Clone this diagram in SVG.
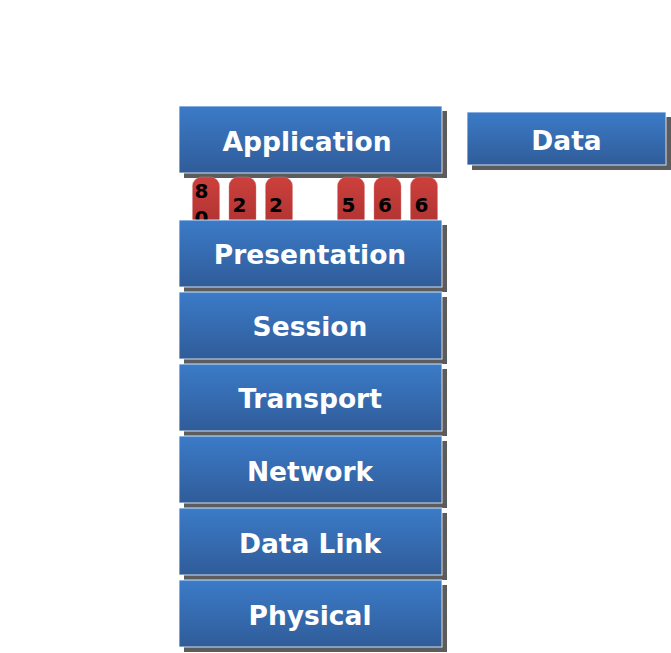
<svg xmlns="http://www.w3.org/2000/svg" width="671" height="653" viewBox="0 0 671 653">
  <defs>
    <linearGradient id="blue" x1="0" y1="0" x2="0" y2="1">
      <stop offset="0" stop-color="#3b7bc8"/>
      <stop offset="1" stop-color="#305c99"/>
    </linearGradient>
    <linearGradient id="red" x1="0" y1="0" x2="0" y2="1">
      <stop offset="0" stop-color="#cc403c"/>
      <stop offset="1" stop-color="#a32e2e"/>
    </linearGradient>
    <style>
      .shadow { fill: #5c5c5c; }
      .box { fill: url(#blue); stroke: #ffffff; stroke-opacity: 0.8; stroke-width: 1; }
      .label { font-family: "DejaVu Sans", sans-serif; font-weight: bold; font-size: 26.5px; fill: #ffffff; text-anchor: middle; }
      .tab { fill: url(#red); stroke: #e08080; stroke-opacity: 0.5; stroke-width: 0.8; }
      .num { font-family: "DejaVu Sans", sans-serif; font-weight: bold; font-size: 20px; fill: #000000; }
    </style>
  </defs>
  <rect width="671" height="653" fill="#ffffff"/>

  <g id="data">
    <rect class="shadow" x="472" y="117" width="199" height="53"/>
    <rect class="box" x="467" y="112" width="199" height="53"/>
    <text class="label" x="566.5" y="149.5">Data</text>
  </g>

  <g id="application">
    <rect class="shadow" x="184" y="111" width="263" height="67"/>
    <rect class="box" x="179" y="106" width="263" height="67"/>
    <text class="label" x="307" y="150.5">Application</text>
  </g>

  <g id="ports">
    <g id="port-1">
      <path class="tab" d="M192.5 245 V186 a9 9 0 0 1 9 -9 h9 a9 9 0 0 1 9 9 V245 Z"/>
      <text class="num" x="194.5" y="197.5">8</text>
      <text class="num" x="194.5" y="225">0</text>
    </g>
    <g id="port-2">
      <path class="tab" d="M229 245 V186 a9 9 0 0 1 9 -9 h9 a9 9 0 0 1 9 9 V245 Z"/>
      <text class="num" x="232.5" y="211.5">2</text>
    </g>
    <g id="port-3">
      <path class="tab" d="M265.5 245 V186 a9 9 0 0 1 9 -9 h9 a9 9 0 0 1 9 9 V245 Z"/>
      <text class="num" x="269" y="211.5">2</text>
    </g>
    <g id="port-4">
      <path class="tab" d="M337.5 245 V186 a9 9 0 0 1 9 -9 h9 a9 9 0 0 1 9 9 V245 Z"/>
      <text class="num" x="341.5" y="211.5">5</text>
    </g>
    <g id="port-5">
      <path class="tab" d="M374 245 V186 a9 9 0 0 1 9 -9 h9 a9 9 0 0 1 9 9 V245 Z"/>
      <text class="num" x="378" y="211.5">6</text>
    </g>
    <g id="port-6">
      <path class="tab" d="M410.5 245 V186 a9 9 0 0 1 9 -9 h9 a9 9 0 0 1 9 9 V245 Z"/>
      <text class="num" x="414.5" y="211.5">6</text>
    </g>
  </g>

  <g id="presentation">
    <rect class="shadow" x="184" y="225" width="263" height="67"/>
    <rect class="box" x="179" y="220" width="263" height="67"/>
    <text class="label" x="310" y="264">Presentation</text>
  </g>
  <g id="session">
    <rect class="shadow" x="184" y="297" width="263" height="67"/>
    <rect class="box" x="179" y="292" width="263" height="67"/>
    <text class="label" x="310" y="336">Session</text>
  </g>
  <g id="transport">
    <rect class="shadow" x="184" y="369" width="263" height="67"/>
    <rect class="box" x="179" y="364" width="263" height="67"/>
    <text class="label" x="310" y="408">Transport</text>
  </g>
  <g id="network">
    <rect class="shadow" x="184" y="441" width="263" height="67"/>
    <rect class="box" x="179" y="436" width="263" height="67"/>
    <text class="label" x="310" y="480.5">Network</text>
  </g>
  <g id="datalink">
    <rect class="shadow" x="184" y="513" width="263" height="67"/>
    <rect class="box" x="179" y="508" width="263" height="67"/>
    <text class="label" x="310" y="552.5">Data Link</text>
  </g>
  <g id="physical">
    <rect class="shadow" x="184" y="585" width="263" height="67"/>
    <rect class="box" x="179" y="580" width="263" height="67"/>
    <text class="label" x="310" y="625">Physical</text>
  </g>

  <g id="connectors"/>
</svg>
